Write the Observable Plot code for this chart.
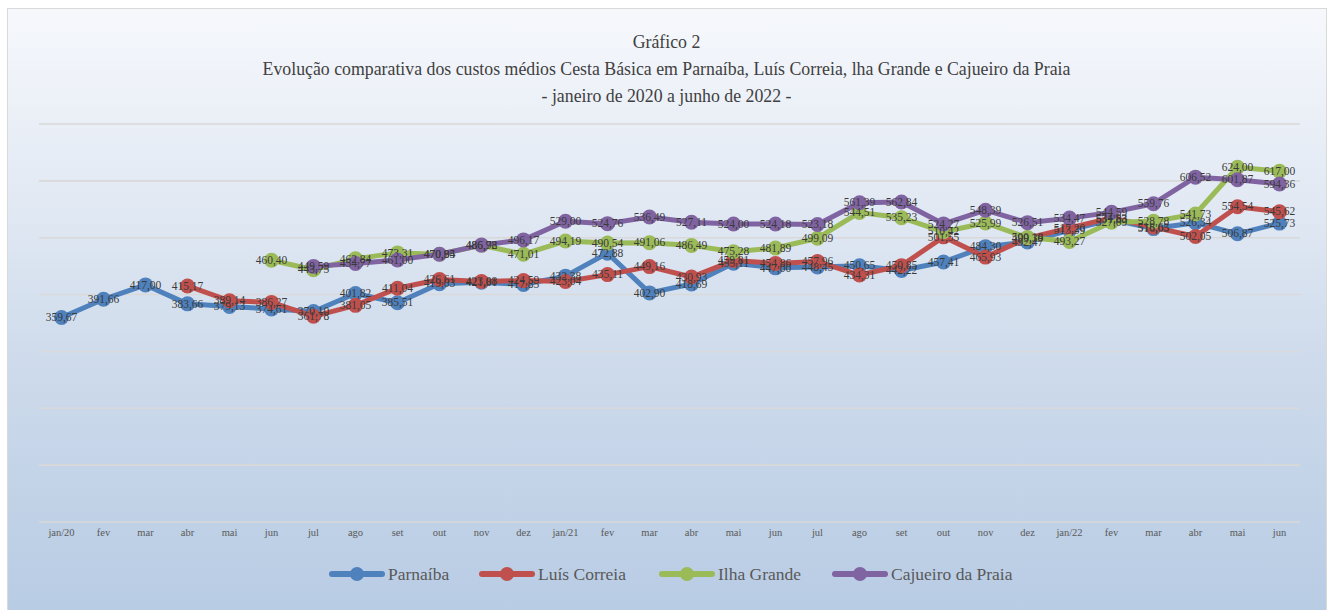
<!DOCTYPE html>
<html><head><meta charset="utf-8">
<script src="https://cdn.jsdelivr.net/npm/d3@7"></script>
<script src="https://cdn.jsdelivr.net/npm/@observablehq/plot@0.6"></script>
<style>
html,body{margin:0;padding:0;background:#fff;}
body{position:relative;width:1333px;height:610px;overflow:hidden;font-family:"Liberation Serif","Times New Roman",serif;}
#frame{position:absolute;left:7px;top:8px;width:1320px;height:604px;border:1.5px solid #d9d9d9;box-sizing:border-box;
 background:linear-gradient(to bottom,#f6f8fc 0%,#e3eaf4 30%,#cddaeb 60%,#b8cce4 100%);}
.t{position:absolute;left:0;width:1333px;text-align:center;color:#404040;font-size:17.8px;line-height:20px;}
#chart{position:absolute;left:0;top:105.5px;}
#legend{position:absolute;left:0;top:556px;width:1333px;height:36px;}
.item{position:absolute;top:0;height:36px;display:flex;align-items:center;font-size:17.5px;color:#595959;}
.sym{position:relative;width:56px;height:14px;margin-right:3px;}
.sym .ln{position:absolute;left:0;right:0;top:4px;height:6px;border-radius:3px;}
.sym .dt{position:absolute;left:21px;top:0;width:14px;height:14px;border-radius:7px;}
</style></head>
<body>
<div id="frame"></div>
<div class="t" style="top:32px;">Gráfico 2</div>
<div class="t" style="top:59px;">Evolução comparativa dos custos médios Cesta Básica em Parnaíba, Luís Correia, lha Grande e Cajueiro da Praia</div>
<div class="t" style="top:86px;">- janeiro de 2020 a junho de 2022 -</div>
<div id="chart"></div>
<div id="legend"></div>
<script>
const months = ["jan/20","fev","mar","abr","mai","jun","jul","ago","set","out","nov","dez",
  "jan/21","fev ","mar ","abr ","mai ","jun ","jul ","ago ","set ","out ","nov ","dez ",
  "jan/22","fev  ","mar  ","abr  ","mai  ","jun  "];
const seriesNames = ["Parnaíba","Luís Correia","Ilha Grande","Cajueiro da Praia"];
const colors = ["#4f81bd","#c0504d","#9bbb59","#8064a2"];
const parnaiba = [359.67,391.66,417.00,383.66,379.13,374.61,370.10,401.82,385.51,419.03,421.81,417.85,
  432.38,472.88,402.90,418.69,455.11,447.00,448.45,450.65,442.22,457.41,484.30,492.47,
  513.39,531.83,516.05,526.34,506.87,525.73];
const luisCorreia = [null,null,null,415.17,389.14,386.27,361.78,381.05,411.04,426.61,423.08,424.59,
  423.04,435.11,449.16,430.93,459.81,454.86,457.96,434.31,450.85,501.55,465.93,499.39,
  517.20,534.83,518.63,502.05,554.54,545.62];
const ilhaGrande = [null,null,null,null,null,460.40,443.75,462.84,473.31,470.95,486.72,471.01,
  494.19,490.54,491.06,486.49,475.28,481.89,499.09,544.51,535.23,510.42,525.99,500.18,
  493.27,527.09,528.78,541.73,624.00,617.00];
const cajueiro = [null,null,null,null,null,null,449.59,454.77,461.00,470.84,486.98,496.17,
  529.00,524.76,536.49,527.11,524.00,524.18,523.18,561.39,562.84,524.27,548.39,526.51,
  534.47,544.59,559.76,606.52,601.87,594.36];
const yTicks = [0,100,200,300,400,500,600,700];

const all = [parnaiba,luisCorreia,ilhaGrande,cajueiro];
const rows = [];
all.forEach((arr,si)=>arr.forEach((v,i)=>{ if(v!=null) rows.push({serie:seriesNames[si],month:months[i],value:v}); }));
const fmt = v => v.toFixed(2).replace(".",",");

const plot = Plot.plot({
  width:1333, height:440,
  marginLeft:39, marginRight:33, marginTop:17.5, marginBottom:24.5,
  style:{background:"transparent",fontFamily:"'Liberation Serif','Times New Roman',serif",overflow:"visible"},
  x:{type:"point",domain:months,padding:0.5,label:null,axis:null},
  y:{domain:[0,700],axis:null},
  color:{domain:seriesNames,range:colors},
  marks:[
    Plot.ruleY(yTicks,{stroke:"#d9d9d9",strokeWidth:1.6}),
    Plot.line(rows,{x:"month",y:"value",z:"serie",stroke:"serie",strokeWidth:5,strokeLinejoin:"round",strokeLinecap:"round"}),
    Plot.dot(rows,{x:"month",y:"value",fill:"serie",r:7.5,stroke:null}),
    Plot.text(rows,{x:"month",y:"value",text:d=>fmt(d.value),fill:"#3a3a3a",fontSize:11.5,textAnchor:"middle"}),
    Plot.axisX({tickSize:0,tickPadding:7,fontSize:10.5,fill:"#595959",tickFormat:d=>d.trim(),label:null})
  ]
});
document.getElementById("chart").appendChild(plot);

const lg = document.getElementById("legend");
const lefts = [329,479,659,832];
seriesNames.forEach((n,i)=>{
  const it = document.createElement("div");
  it.className="item"; it.style.left=lefts[i]+"px";
  it.innerHTML = `<div class="sym"><div class="ln" style="background:${colors[i]}"></div><div class="dt" style="background:${colors[i]}"></div></div><span>${n}</span>`;
  lg.appendChild(it);
});
</script>
</body></html>
